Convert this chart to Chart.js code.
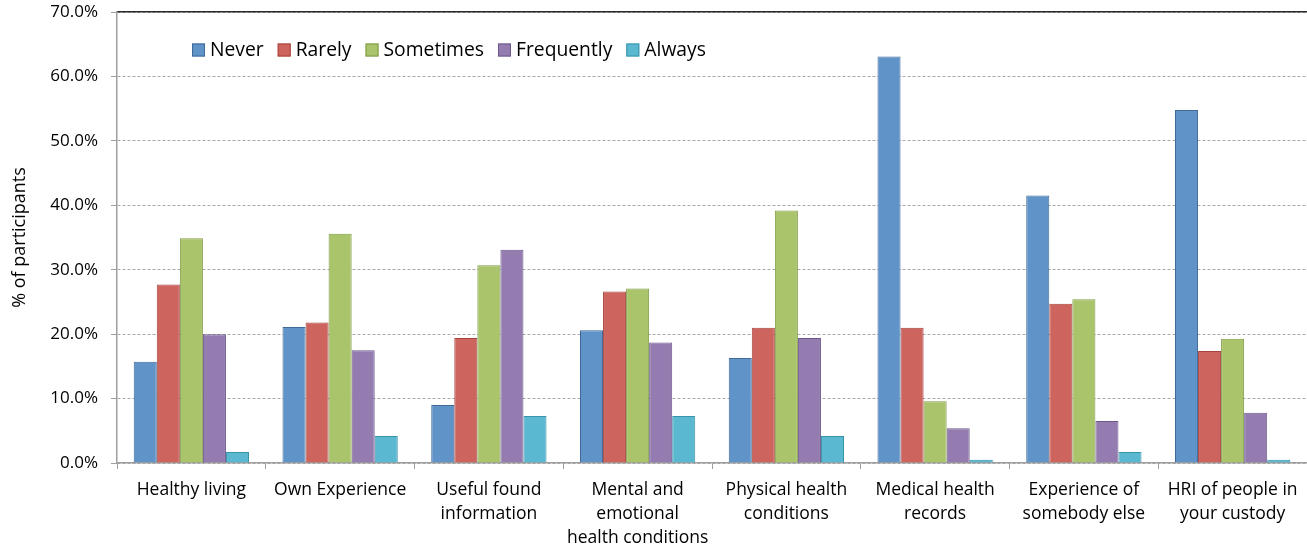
<!DOCTYPE html>
<html>
<head>
<meta charset="utf-8">
<script src="https://cdn.jsdelivr.net/npm/chart.js@4.4.1/dist/chart.umd.min.js"></script>
<style>
  html, body { margin: 0; padding: 0; background: #ffffff; }
  #wrap { width: 1307px; height: 546px; position: relative; }
</style>
</head>
<body>
<div id="wrap"><canvas id="chart"></canvas></div>
<script>
// Survey categories (multi-line labels)
const categories = [
  ['Healthy living'],
  ['Own Experience'],
  ['Useful found', 'information'],
  ['Mental and', 'emotional', 'health conditions'],
  ['Physical health', 'conditions'],
  ['Medical health', 'records'],
  ['Experience of', 'somebody else'],
  ['HRI of people in', 'your custody']
];

const seriesNames = ['Never', 'Rarely', 'Sometimes', 'Frequently', 'Always'];

// Percent of participants per answer
const never      = [15.7, 21.1,  9.0, 20.6, 16.3, 63.1, 41.5, 54.8];
const rarely     = [27.7, 21.8, 19.4, 26.6, 21.0, 21.0, 24.7, 17.4];
const sometimes  = [34.9, 35.6, 30.7, 27.1, 39.2,  9.6, 25.4, 19.3];
const frequently = [20.0, 17.5, 33.1, 18.7, 19.4,  5.4,  6.5,  7.8];
const always     = [ 1.7,  4.2,  7.3,  7.3,  4.2,  0.5,  1.7,  0.5];

const yTicks = [0, 10, 20, 30, 40, 50, 60, 70];

const fills   = ['#6094c8', '#cd645e', '#a9c46a', '#947cb0', '#5ab8d1'];
const borders = ['#40699a', '#a6433e', '#7f9a45', '#6c588c', '#3a93ab'];

const FONT = 'Open Sans';

const seriesValues = [never, rarely, sometimes, frequently, always];
const datasets = seriesNames.map((name, i) => ({
  label: name,
  data: seriesValues[i],
  backgroundColor: fills[i],
  borderColor: borders[i],
  borderWidth: 1,
  barPercentage: 1.0,
  categoryPercentage: 0.775
}));

// Legend drawn inside the plot area, near its top-left
const insideLegend = {
  id: 'insideLegend',
  afterDraw(chart) {
    const ctx = chart.ctx;
    ctx.save();
    ctx.font = '19.3px "' + FONT + '"';
    ctx.textBaseline = 'middle';
    let x = 192;
    const y = 50;
    const box = 13;
    chart.data.datasets.forEach(ds => {
      ctx.fillStyle = ds.backgroundColor;
      ctx.fillRect(x, y - box / 2, box, box);
      ctx.strokeStyle = ds.borderColor;
      ctx.lineWidth = 1;
      ctx.strokeRect(x + 0.5, y - box / 2 + 0.5, box - 1, box - 1);
      x += box + 5;
      ctx.fillStyle = '#000000';
      ctx.textAlign = 'left';
      ctx.fillText(ds.label, x, y + 1);
      x += ctx.measureText(ds.label).width + 14;
    });
    ctx.restore();
  }
};

new Chart(document.getElementById('chart'), {
  type: 'bar',
  data: { labels: categories, datasets },
  plugins: [insideLegend],
  options: {
    responsive: true,
    maintainAspectRatio: false,
    animation: false,
    layout: { padding: { top: 12, right: 0, left: 0, bottom: 0 } },
    plugins: {
      legend: { display: false },
      tooltip: { enabled: false }
    },
    scales: {
      x: {
        offset: true,
        grid: {
          offset: true,
          drawOnChartArea: false,
          drawTicks: true,
          tickLength: 6,
          color: '#9f9f9f'
        },
        border: { display: true, color: '#9f9f9f', width: 1.5 },
        ticks: {
          color: '#000000',
          font: { family: FONT, size: 17.5, lineHeight: 1.37 },
          padding: 9,
          maxRotation: 0,
          autoSkip: false
        },
        afterFit(scale) { scale.height = 83; }
      },
      // solid frame line along the top of the plot
      xTop: {
        position: 'top',
        offset: true,
        grid: { display: false },
        ticks: { display: false },
        border: { display: true, color: '#2a2a2a', width: 1.5 },
        afterFit(scale) { scale.height = 0; scale.paddingLeft = 0; scale.paddingRight = 0; }
      },
      y: {
        min: 0,
        max: 70,
        afterBuildTicks(scale) { scale.ticks = yTicks.map(v => ({ value: v })); },
        grid: {
          drawTicks: true,
          tickLength: 6,
          color: '#a8a8a8',
          tickColor: '#9f9f9f',
          lineWidth: 1
        },
        border: { display: true, color: '#9f9f9f', width: 1.5, dash: [3, 2] },
        ticks: {
          color: '#000000',
          font: { family: FONT, size: 17 },
          padding: 13,
          callback: v => v.toFixed(1) + '%'
        },
        title: {
          display: true,
          text: '% of participants',
          color: '#000000',
          font: { family: FONT, size: 18 },
          padding: { top: 9, bottom: 0 }
        },
        afterFit(scale) {
          scale.width = 117;
          scale.paddingTop = 0;
          scale.paddingBottom = 0;
        }
      }
    }
  }
});
</script>
</body>
</html>
